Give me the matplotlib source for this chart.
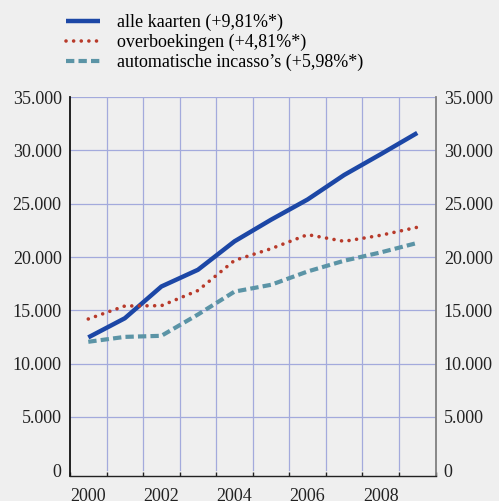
import numpy as np
import matplotlib
matplotlib.use("Agg")
from matplotlib import pyplot as plt
from matplotlib.ticker import FuncFormatter, FixedLocator

plt.rcParams['font.family'] = ['Liberation Serif', 'DejaVu Serif']

years = [2000, 2001, 2002, 2003, 2004, 2005, 2006, 2007, 2008, 2009]
alle_kaarten = [12450, 14250, 17230, 18800, 21470, 23500, 25400, 27700, 29650, 31650]
overboekingen = [14180, 15400, 15430, 16850, 19680, 20780, 22100, 21470, 22040, 22790]
incasso = [12040, 12500, 12600, 14600, 16750, 17390, 18640, 19650, 20430, 21320]
labels = ["alle kaarten (+9,81%*)", "overboekingen (+4,81%*)", "automatische incasso\u2019s (+5,98%*)"]
year_labels = [2000, 2002, 2004, 2006, 2008]

bg = '#efefef'
grid_c = '#a3aadc'

fig = plt.figure(figsize=(4.99, 5.01), dpi=100, facecolor=bg)
ax = fig.add_axes([0.1403, 0.0491, 0.7325, 0.7568], facecolor=bg)

l1, = ax.plot(years, alle_kaarten, color='#1c47a6', lw=3.2, solid_capstyle='butt')
l2, = ax.plot(years, overboekingen, color='#b83a2a', lw=2.6, linestyle=(0, (0.01, 2.1)),
              dash_capstyle='round')
l3, = ax.plot(years, incasso, color='#5b94a6', lw=3.0, linestyle=(0, (2.0, 1.0)),
              dash_capstyle='butt')

ax.set_xlim(1999.5, 2009.5)
ax.set_ylim(-600, 35000)

# grid
for y in range(5000, 35001, 5000):
    ax.axhline(y, color=grid_c, lw=0.9, zorder=0)
for x in np.arange(2000.5, 2009.0, 1.0):
    ax.plot([x, x], [0, 35000], color=grid_c, lw=0.9, zorder=0)

ax.yaxis.set_major_locator(FixedLocator(range(0, 35001, 5000)))
ax.yaxis.set_major_formatter(FuncFormatter(lambda v, p: ('%d' % v) if v == 0 else '{:,}'.format(int(v)).replace(',', '.')))
ax.tick_params(axis='y', length=0, labelsize=13, pad=6, labelright=True, labelcolor='#222222')

ax.xaxis.set_major_locator(FixedLocator(np.arange(1999.5, 2010.0, 1.0)))
ax.xaxis.set_major_formatter(FuncFormatter(lambda v, p: ''))
ax.xaxis.set_minor_locator(FixedLocator(year_labels))
ax.xaxis.set_minor_formatter(FuncFormatter(lambda v, p: '%d' % v))
ax.tick_params(axis='x', which='major', direction='in', length=3, width=1, color='#222222')
ax.tick_params(axis='x', which='minor', length=0, labelsize=13, pad=8, labelcolor='#222222')

ax.spines['top'].set_visible(False)
ax.spines['left'].set_color('#111111')
ax.spines['left'].set_linewidth(1.3)
ax.spines['bottom'].set_color('#222222')
ax.spines['bottom'].set_linewidth(1.0)
ax.spines['right'].set_color('#808080')
ax.spines['right'].set_linewidth(1.3)

fig.legend([l1, l2, l3], labels, loc='upper left', bbox_to_anchor=(0.118, 0.987),
           frameon=False, fontsize=13, handlelength=1.9, handletextpad=0.9,
           labelspacing=0.15, borderaxespad=0)

fig.savefig('out.png', dpi=100, facecolor=bg)
